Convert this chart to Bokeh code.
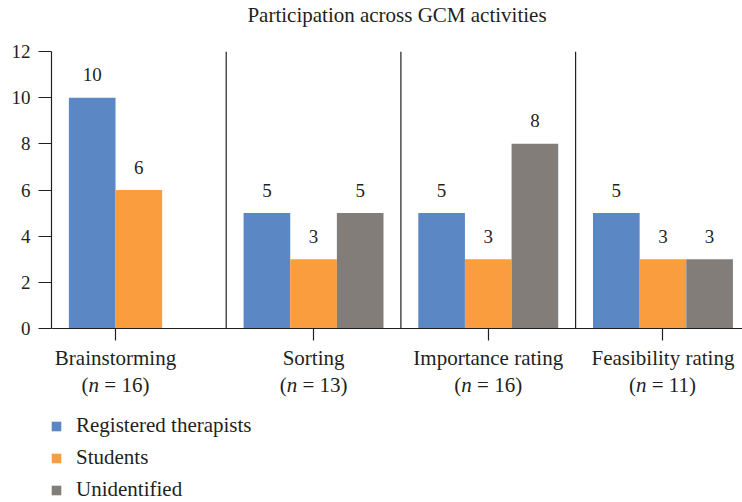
import numpy as np
from bokeh.plotting import figure
from bokeh.models import Range1d, FixedTicker, Label, Legend, LegendItem, ColumnDataSource, Title
from bokeh.core.properties import value
from bokeh.embed import file_html
from bokeh.resources import INLINE

# ---------------- data ----------------
chart_title = "Participation across GCM activities"
activities = ["Brainstorming", "Sorting", "Importance rating", "Feasibility rating"]
group_n = [16, 13, 16, 11]
series_names = ["Registered therapists", "Students", "Unidentified"]
registered = [10, 5, 5, 5]
students = [6, 3, 3, 3]
unidentified = [0, 5, 8, 3]
y_ticks = [0, 2, 4, 6, 8, 10, 12]

# ---------------- style ----------------
FONT = "Liberation Serif"
INK = "#231f20"
colors = ["#5b87c4", "#f99d3e", "#827d79"]
BAR_W = 0.267
FS = 21
TXT = f"{FS}px"
NUM = "19px"
W, H = 742, 502
TOP, LEFT = 51, 51
PX_PER_UNIT = 277 / 12.0
GROUP_PX = 174.7

series = [registered, students, unidentified]
n_groups = len(activities)

y_lo = -(H - TOP - 12 * PX_PER_UNIT) / PX_PER_UNIT
x_hi = (W - LEFT) / GROUP_PX

p = figure(width=W, height=H, output_backend="svg", toolbar_location=None,
           x_range=Range1d(0, x_hi), y_range=Range1d(y_lo, y_ticks[-1]),
           min_border_left=LEFT, min_border_right=0, min_border_top=TOP,
           min_border_bottom=0)
p.outline_line_color = None
p.xgrid.visible = False
p.ygrid.visible = False

p.title.text = chart_title
p.title.align = "center"
p.title.vertical_align = "top"
p.title.text_font = FONT
p.title.text_font_size = TXT
p.title.text_font_style = "normal"
p.title.text_color = INK
p.title.standoff = 0
p.title.offset = 3
# empty spacer between the title and the plot area
p.add_layout(Title(text=" ", text_font_size="1px", standoff=20), "above")

# bars
renderers = []
group_idx = np.arange(n_groups)
present_centers = [[] for _ in range(n_groups)]
for k, (name, vals, col) in enumerate(zip(series_names, series, colors)):
    xs = group_idx + 0.5 + (k - 1) * BAR_W
    src = ColumnDataSource(dict(x=xs, top=vals))
    r = p.vbar(x="x", top="top", width=BAR_W, source=src, fill_color=col, line_color=None)
    renderers.append(r)
    lab_x = [x for x, v in zip(xs, vals) if v > 0]
    lab_v = [v for v in vals if v > 0]
    for gi, v in enumerate(vals):
        if v > 0:
            present_centers[gi].append(xs[gi])
    p.text(x=lab_x, y=lab_v, text=[str(v) for v in lab_v], text_align="center",
           text_baseline="alphabetic", y_offset=-23, text_font=value(FONT),
           text_font_size=NUM, text_color=INK)

# group separators
bounds_x = list(range(1, n_groups))
p.segment(x0=bounds_x, y0=[y_ticks[0]] * len(bounds_x), x1=bounds_x,
          y1=[y_ticks[-1]] * len(bounds_x), line_color=INK, line_width=1.2)

centers = [float(np.mean(c)) for c in present_centers]

# axes
p.yaxis.bounds = (y_ticks[0], y_ticks[-1])
p.yaxis.ticker = FixedTicker(ticks=y_ticks)
p.yaxis.major_tick_out = 13
p.yaxis.major_tick_in = 0
p.yaxis.minor_tick_line_color = None
p.yaxis.axis_line_color = INK
p.yaxis.axis_line_width = 1.2
p.yaxis.major_tick_line_color = INK
p.yaxis.major_tick_line_width = 1.2
p.yaxis.major_label_standoff = 8
p.yaxis.major_label_text_font = FONT
p.yaxis.major_label_text_font_size = NUM
p.yaxis.major_label_text_color = INK

p.xaxis.fixed_location = 0
p.xaxis.ticker = FixedTicker(ticks=centers)
p.xaxis.major_tick_out = 12
p.xaxis.major_tick_in = 0
p.xaxis.minor_tick_line_color = None
p.xaxis.axis_line_color = INK
p.xaxis.axis_line_width = 1.2
p.xaxis.major_tick_line_color = INK
p.xaxis.major_tick_line_width = 1.2
p.xaxis.major_label_text_alpha = 0
p.xaxis.major_label_text_font_size = "1px"

# category labels (two lines, italic n)
w_open = 0.333 * FS
w_n = 0.5 * FS
w_sp = 0.25 * FS
for cx, name, n in zip(centers, activities, group_n):
    p.add_layout(Label(x=cx, y=0, x_units="data", y_units="data", text=name,
                       text_align="center", text_baseline="alphabetic", y_offset=-29,
                       text_font=FONT, text_font_size=TXT, text_color=INK))
    rest = f"= {n})"
    w_rest = (0.564 + 0.25 + 0.5 * len(str(n)) + 0.333) * FS
    start = -(w_open + w_n + w_sp + w_rest) / 2
    for txt, off, style in [("(", start, "normal"), ("n", start + w_open, "italic"),
                            (rest, start + w_open + w_n + w_sp, "normal")]:
        p.add_layout(Label(x=cx, y=0, x_units="data", y_units="data", text=txt,
                           text_align="left", text_baseline="alphabetic",
                           x_offset=off, y_offset=-56, text_font=FONT,
                           text_font_size=TXT, text_font_style=style, text_color=INK))

legend = Legend(items=[LegendItem(label=nm, renderers=[r]) for nm, r in zip(series_names, renderers)],
                location=(-1, 0), orientation="vertical")
legend.label_text_font = FONT
legend.label_text_font_size = TXT
legend.label_text_color = INK
legend.glyph_width = 12
legend.glyph_height = 12
legend.label_standoff = 14
legend.spacing = 7
legend.padding = 0
legend.margin = 0
legend.border_line_color = None
legend.background_fill_alpha = 0
p.add_layout(legend)

open("out.html", "w").write(file_html(p, INLINE))
